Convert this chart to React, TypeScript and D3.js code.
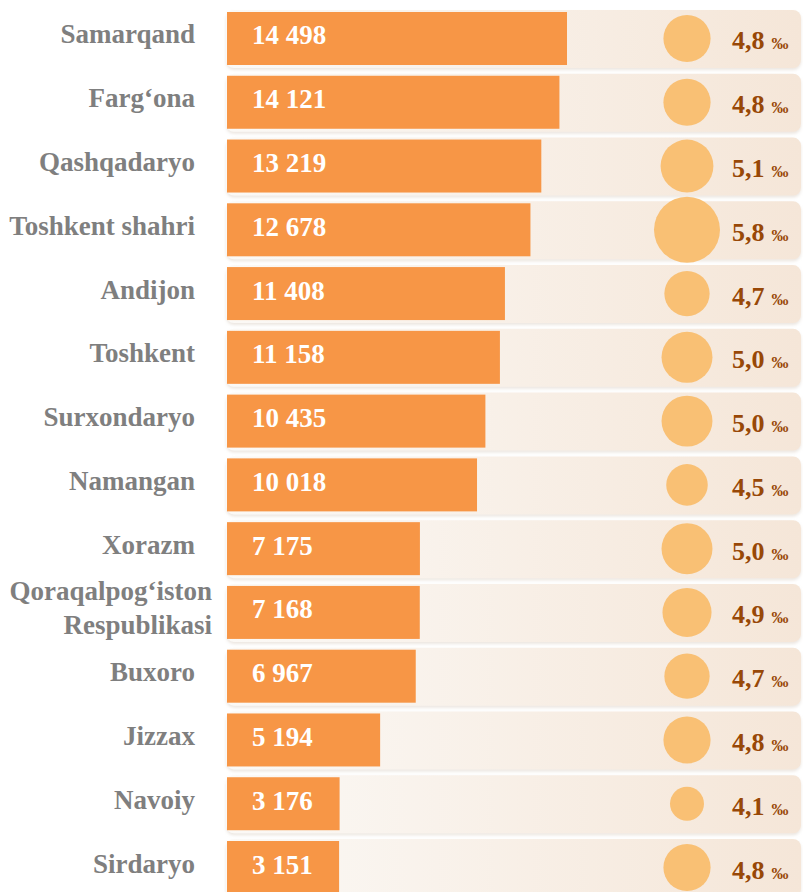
import React from "react";
import * as d3 from "d3";

const width = 803;
const height = 892;

// regions, births (count) and birth rate (per mille)
const regions = [
  "Samarqand",
  "Farg‘ona",
  "Qashqadaryo",
  "Toshkent shahri",
  "Andijon",
  "Toshkent",
  "Surxondaryo",
  "Namangan",
  "Xorazm",
  "Qoraqalpog‘iston\nRespublikasi",
  "Buxoro",
  "Jizzax",
  "Navoiy",
  "Sirdaryo",
];
const counts = [14498, 14121, 13219, 12678, 11408, 11158, 10435, 10018, 7175, 7168, 6967, 5194, 3176, 3151];
const rates = [4.8, 4.8, 5.1, 5.8, 4.7, 5.0, 5.0, 4.5, 5.0, 4.9, 4.7, 4.8, 4.1, 4.8];

const locale = d3.formatLocale({ decimal: ",", thousands: " ", grouping: [3], currency: ["", ""] });
const fmtCount = locale.format(",d");
const fmtRate = locale.format(".1f");

const serif = "'Liberation Serif', 'Times New Roman', serif";

export default function App() {
  const barX = 227;

  const y = d3.scaleBand<string>().domain(regions).range([12, 894]).paddingInner(0.169);
  // bar lengths of the original are not zero-based, fitted linear scale
  const x = d3.scaleLinear().domain([-2430, 14498]).range([0, 340]);
  const r = d3.scaleLinear().domain([4.1, 5.8]).range([17, 33]);

  const bw = y.bandwidth();

  return (
    <svg width={width} height={height} style={{ position: "absolute", left: 0, top: 0 }}>
      <defs>
        <linearGradient id="band" x1="0" x2="1" y1="0" y2="0">
          <stop offset="0" stopColor="#FBF9F6" />
          <stop offset="1" stopColor="#F5E6D8" />
        </linearGradient>
        <filter id="sh" x="-5%" y="-20%" width="110%" height="150%">
          <feDropShadow dx="0" dy="2" stdDeviation="1.5" floodColor="#C9B8A8" floodOpacity="0.35" />
        </filter>
      </defs>
      {regions.map((name, i) => {
        const top = y(name)!;
        const cy = top + bw / 2;
        const lines = name.split("\n");
        return (
          <g key={name}>
            <rect
              x={barX - 1}
              y={top - 2}
              width={width - barX - 1}
              height={bw + 5}
              rx={8}
              fill="url(#band)"
              filter="url(#sh)"
            />
            <rect x={barX} y={top} width={x(counts[i])} height={bw} fill="#F79646" />
            <text
              x={barX + 25}
              y={cy + 6}
              fill="#fff"
              fontFamily={serif}
              fontWeight="bold"
              fontSize={27}
            >
              {fmtCount(counts[i])}
            </text>
            <text
              textAnchor="end"
              fill="#7F7F7F"
              fontFamily={serif}
              fontWeight="bold"
              fontSize={27}
            >
              {lines.map((ln, k) => (
                <tspan key={k} x={lines.length > 1 ? 212 : 195} y={cy + 5 - ((lines.length - 1) * 34) / 2 + k * 34}>
                  {ln}
                </tspan>
              ))}
            </text>
            <circle cx={687} cy={cy} r={r(rates[i])} fill="#F9C074" />
            <text x={732} y={cy + 11} fill="#984807" fontFamily={serif} fontWeight="bold">
              <tspan fontSize={26}>{fmtRate(rates[i])}</tspan>
              <tspan fontSize={17} dx={7}>‰</tspan>
            </text>
          </g>
        );
      })}
    </svg>
  );
}
